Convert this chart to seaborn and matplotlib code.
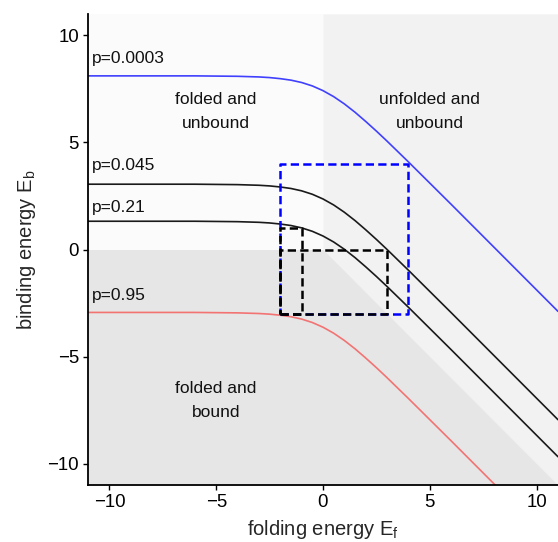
import numpy as np
import pandas as pd
import matplotlib
matplotlib.use('Agg')
import matplotlib.pyplot as plt
import seaborn as sns

# folding energy grid and binding energy of the iso-probability curves
fold_energy = [-11, -6, -4, -3, -2.5, -2, -1.5, -1, -0.5, 0, 0.5, 1, 1.5, 2, 2.5, 3, 4, 5, 6, 8, 11]
eb_p0003 = [8.11, 8.11, 8.09, 8.06, 8.03, 7.98, 7.91, 7.80, 7.64, 7.42, 7.14, 6.80, 6.41, 5.98,
            5.53, 5.06, 4.09, 3.10, 2.11, 0.11, -2.89]
eb_p045 = [3.05, 3.05, 3.03, 3.00, 2.97, 2.92, 2.85, 2.74, 2.58, 2.36, 2.08, 1.74, 1.35, 0.92,
           0.47, 0.00, -0.97, -1.96, -2.95, -4.95, -7.95]
eb_p21 = [1.32, 1.32, 1.30, 1.27, 1.24, 1.19, 1.12, 1.01, 0.85, 0.63, 0.35, 0.01, -0.38, -0.81,
          -1.26, -1.73, -2.70, -3.69, -4.68, -6.68, -9.68]
eb_p95 = [-2.94, -2.94, -2.96, -2.99, -3.02, -3.07, -3.14, -3.25, -3.41, -3.63, -3.91, -4.25,
          -4.64, -5.07, -5.52, -5.99, -6.96, -7.95, -8.94, -10.94, -13.94]

p_labels = ['p=0.0003', 'p=0.045', 'p=0.21', 'p=0.95']
p_label_y = [8.9, 3.93, 1.94, -2.15]

# dashed boxes: (x0, x1, y0, y1)
box_blue = [-2, 4, -3, 4]
box_black_1 = [-2, 3, -3, 0]
box_black_2 = [-2, -1, -3, 1]

region_labels = ['folded and\nunbound', 'unfolded and\nunbound', 'folded and\nbound']
region_x = [-5, 5, -5]
region_y = [6.45, 6.45, -7.05]

sns.set_theme(style='ticks')
plt.rcParams['font.family'] = ['Liberation Sans', 'DejaVu Sans']
plt.rcParams['mathtext.fontset'] = 'custom'
plt.rcParams['mathtext.rm'] = 'Liberation Sans'
plt.rcParams['mathtext.it'] = 'Liberation Sans'

fig = plt.figure(figsize=(5.58, 5.42), dpi=100)
ax = fig.add_axes([88 / 558, 1 - 485 / 542, 470 / 558, 471 / 542])
ax.set_xlim(-11, 11)
ax.set_ylim(-11, 11)

# background phase regions
ax.set_facecolor('#fbfbfb')
ax.fill_between([0, 11], [0, -11], [11, 11], color='#f2f2f2', lw=0, zorder=0)
ax.fill_between([-11, 0, 11], [0, 0, -11], [-11, -11, -11], color='#e6e6e6', lw=0, zorder=0)

curves = pd.DataFrame({
    'Ef': fold_energy * 4,
    'Eb': eb_p0003 + eb_p045 + eb_p21 + eb_p95,
    'p': [p for p in p_labels for _ in fold_energy],
})
palette = {'p=0.0003': '#4040ff', 'p=0.045': '#1a1a1a', 'p=0.21': '#1a1a1a', 'p=0.95': '#f37373'}
sns.lineplot(data=curves, x='Ef', y='Eb', hue='p', palette=palette, lw=1.2,
             legend=False, sort=False, ax=ax, zorder=2)

for lab, yy in zip(p_labels, p_label_y):
    ax.text(-10.8, yy, lab, fontsize=12.5, va='center', ha='left', color='#111111')

for lab, xx, yy in zip(region_labels, region_x, region_y):
    ax.text(xx, yy, lab, fontsize=12.5, ha='center', va='center', linespacing=1.8,
            color='#111111')


def draw_box(b, color):
    x0, x1, y0, y1 = b
    ax.plot([x0, x1, x1, x0, x0], [y0, y0, y1, y1, y0], color=color, lw=1.8,
            ls=(0, (3.3, 1.7)), zorder=3)


draw_box(box_blue, '#0000ff')
draw_box(box_black_1, 'black')
draw_box(box_black_2, 'black')

ax.set_xticks([-10, -5, 0, 5, 10])
ax.set_yticks([-10, -5, 0, 5, 10])
ax.set_xticklabels(['\u221210', '\u22125', '0', '5', '10'])
ax.set_yticklabels(['\u221210', '\u22125', '0', '5', '10'])
ax.tick_params(labelsize=13.4, length=3.5, width=1, colors='black', pad=3)
ax.set_xlabel(r'folding energy E$_\mathrm{f}$', fontsize=14.5, labelpad=5)
ax.set_ylabel(r'binding energy E$_\mathrm{b}$', fontsize=14.5, labelpad=7)
sns.despine(ax=ax)
for s in ['left', 'bottom']:
    ax.spines[s].set_linewidth(1.3)
    ax.spines[s].set_color('black')

fig.savefig('out.png', dpi=100)
